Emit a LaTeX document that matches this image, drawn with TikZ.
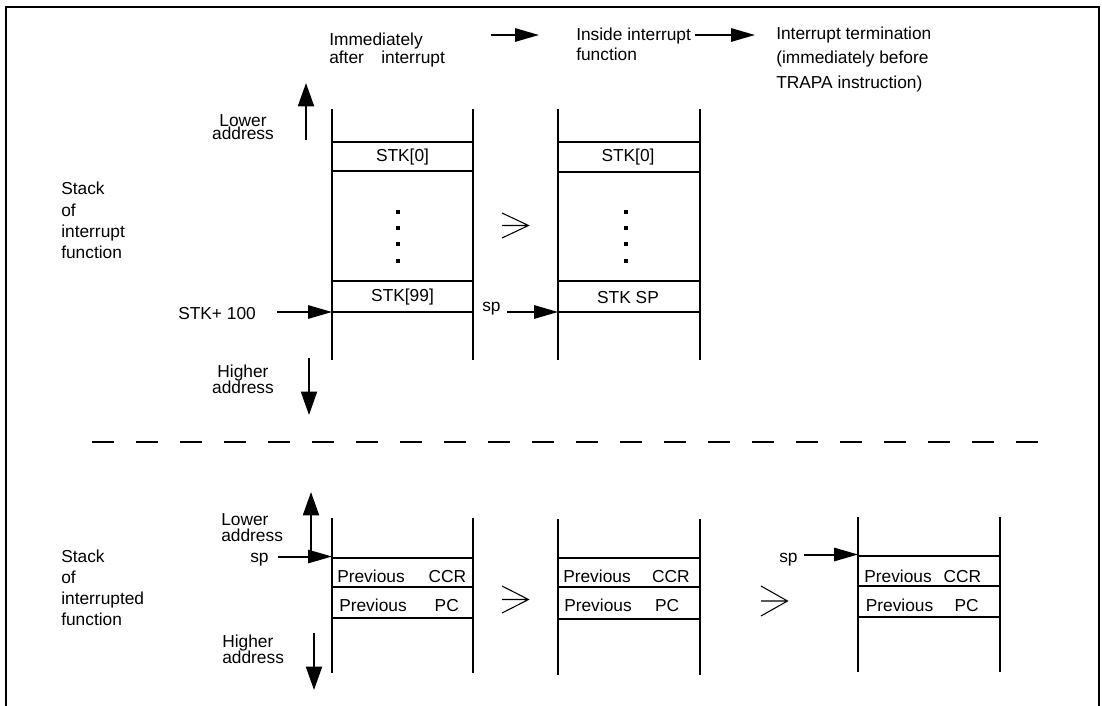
\documentclass[tikz,border=0pt]{standalone}
\usepackage{fontspec}
\setmainfont{Liberation Sans}
\usetikzlibrary{arrows.meta,positioning}
\newcommand\lblfont[1]{\fontsize{13pt}{#1}\selectfont\lineskiplimit=-20pt\relax}
\tikzset{
  % Plain label text (argument: line spacing)
  lbl/.style={inner sep=0pt,align=left,font=\lblfont{#1}},
  lbl/.default=16pt,
  % Stack walls and cell lines
  wall/.style={line width=1.5pt},
  % Pointer arrows
  arr/.style={-{Triangle[length=18pt,width=10pt]},line width=1.5pt},
  varr/.style={-{Triangle[length=17.5pt,width=12pt]},line width=1.5pt},
  % Open "implies" mark between stacks
  impl/.style={line width=0.8pt},
}

\begin{document}
\begin{tikzpicture}[x=0.75pt,y=-0.75pt]
  \useasboundingbox (0,0) rectangle (1102,706);
  % Frame, open at the bottom
  \draw[wall] (6,706) -- (6,7) -- (1099,7) -- (1099,706);

  % Phase headings
  \node[lbl=13.5pt,anchor=north west] (hImm) at (329,33)
    {Immediately\\after\hspace{1em}interrupt};
  \node[lbl=15pt,anchor=north west] (hIns) at (576,28)
    {Inside interrupt\\function};
  \node[lbl=18.4pt,anchor=north west] (hEnd) at (776,26.5)
    {Interrupt termination\\(immediately before\\TRAPA instruction)};
  \coordinate (p1a) at (491,35); \coordinate (p1b) at (539,35);
  \coordinate (p2a) at (695,35); \coordinate (p2b) at (755,35);
  \draw[arr] (p1a) -- (p1b);
  \draw[arr] (p2a) -- (p2b);

  % Stack walls
  \foreach \l/\r/\t/\b in {332/473/109/360,558/700/109/360,
      332/473/518/673,558/700/519/675,858/1000/517/672}
    \draw[wall] (\l,\t) -- (\l,\b) (\r,\t) -- (\r,\b);
  % Cell lines
  \foreach \l/\r/\y in {332/473/142,332/473/171,332/473/281,332/473/312,
      558/700/142,558/700/172,558/700/281,558/700/312,
      332/473/557.5,332/473/586.5,332/473/617.5,
      558/700/557.5,558/700/586.5,558/700/619,
      858/1000/555.5,858/1000/586,858/1000/616.5}
    \draw[wall] (\l,\y) -- (\r,\y);

  % Stack of interrupt function
  \node[lbl,anchor=north west] (sIr) at (61,182)
    {Stack\\of\\interrupt\\function};
  \node[lbl] (aTop) at (402.5,157) {STK[0]};
  \node[lbl] (aEnd) at (402.5,297.5) {STK[99]};
  \node[lbl] (bTop) at (628,157.5) {STK[0]};
  \node[lbl] (bEnd) at (628,297.5) {STK SP};
  \foreach \x in {398,626}
    \foreach \y in {212,228,244,261}
      \fill (\x-1.75,\y-1.75) rectangle ++(3.5,3.5);

  \node[lbl=10pt,align=center,anchor=north] (lo1) at (243,114)
    {Lower\\address};
  \node[lbl=12pt,align=center,anchor=north] (hi1) at (243,364.5)
    {Higher\\address};
  \coordinate (u1a) at (306,140); \coordinate (u1b) at (306,83);
  \coordinate (d1a) at (309,358); \coordinate (d1b) at (309,415);
  \draw[varr] (u1a) -- (u1b);
  \draw[varr] (d1a) -- (d1b);

  \node[lbl,anchor=base west] (stkp) at (178,319) {STK+ 100};
  \coordinate (stkq) at (277,312); \coordinate (aBot) at (332,312);
  \draw[arr] (stkq) -- (aBot);
  \node[lbl,anchor=base west] (sp1) at (482,311) {sp};
  \coordinate (sp1q) at (507,312); \coordinate (bBot) at (558,312);
  \draw[arr] (sp1q) -- (bBot);

  % Separator
  \draw[line width=2pt,dash pattern=on 16.5pt off 16.5pt] (92,442) -- (1039,442);

  % Stack of interrupted function
  \node[lbl=15.75pt,anchor=north west] (sId) at (61,550)
    {Stack\\of\\interrupted\\function};
  \node[lbl=12pt,anchor=north west] (lo2) at (221,513)
    {Lower\\address};
  \node[lbl=12pt,anchor=north west] (hi2) at (222,634.5)
    {Higher\\address};
  \coordinate (u2a) at (311,557); \coordinate (u2b) at (311,492);
  \coordinate (d2a) at (314,633); \coordinate (d2b) at (314,690);
  \draw[varr] (u2a) -- (u2b);
  \draw[varr] (d2a) -- (d2b);

  \node[lbl,anchor=base west] (sp2) at (250,562.5) {sp};
  \coordinate (sp2q) at (278,556.5); \coordinate (cTop) at (332,556.5);
  \draw[arr] (sp2q) -- (cTop);
  \node[lbl,anchor=base west] (sp3) at (779,562.5) {sp};
  \coordinate (sp3q) at (804,554.5); \coordinate (eTop) at (858,554.5);
  \draw[arr] (sp3q) -- (eTop);

  \node[lbl,anchor=west] (cCcr) at (337,576) {Previous\hspace{18pt}CCR};
  \node[lbl,anchor=west] (cPc) at (339,605) {Previous\hspace{21pt}PC};
  \node[lbl,anchor=west] (dCcr) at (563,576.5) {Previous\hspace{16pt}CCR};
  \node[lbl,anchor=west] (dPc) at (564,605) {Previous\hspace{17.5pt}PC};
  \node[lbl,anchor=west] (eCcr) at (864,576) {Previous\hspace{9pt}CCR};
  \node[lbl,anchor=west] (ePc) at (865.5,605) {Previous\hspace{16pt}PC};

  % Implies marks
  \foreach \x/\y/\h in {502/225.5/12.5,502/599.5/13.5,761/601/15}
    \draw[impl] (\x,\y) -- ++(26.5,0)
      (\x,\y-\h) -- ++(26.5,\h) -- ++(-26.5,\h);
\end{tikzpicture}
\end{document}
